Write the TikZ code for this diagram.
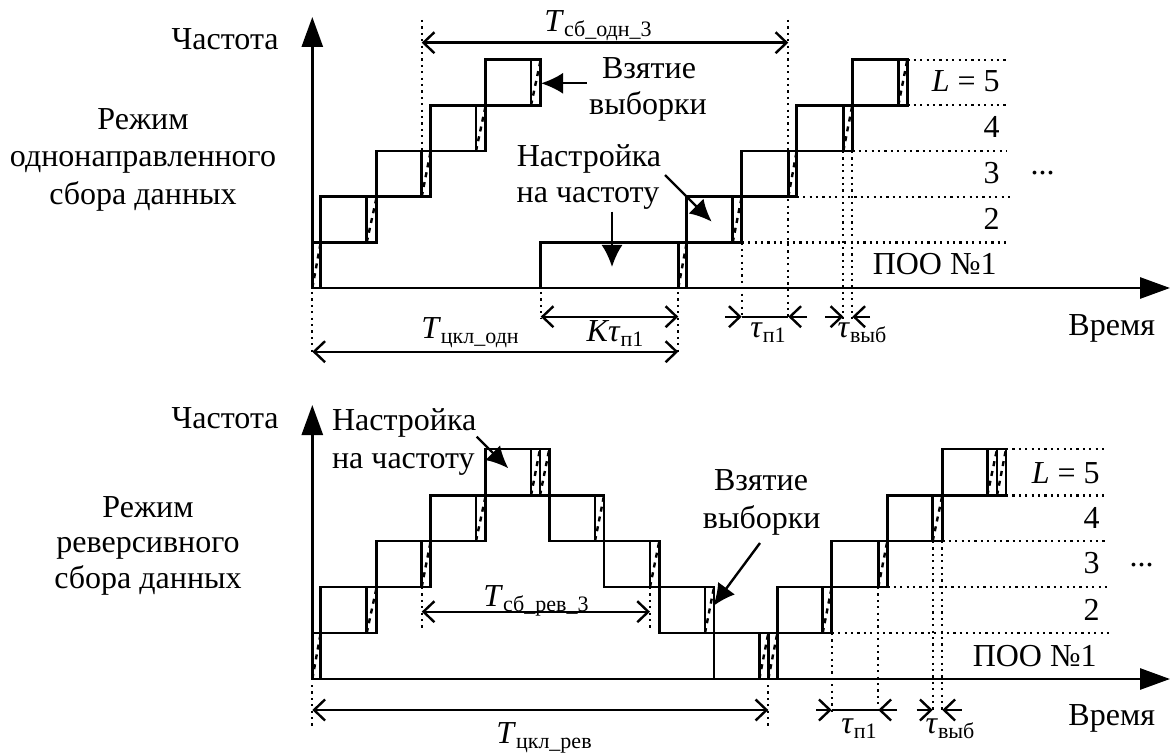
\documentclass[tikz,border=0pt]{standalone}
\usepackage{fontspec}
\setmainfont{Liberation Serif}
\usetikzlibrary{arrows.meta}
\newcommand{\sbs}[1]{\raisebox{-2.5pt}{\fontsize{11}{11}\selectfont #1}}
\newcommand{\smpbox}[4]{\draw[ln] (#1,#3) rectangle (#2,#4);}
\newcommand{\smpstrip}[4]{\draw[ln] (#1,#3) rectangle (#2,#4); \draw[hatch] (#1,#4) -- (#2,#3);}
\begin{document}
\begin{tikzpicture}[x=0.5pt,y=-0.5pt,
  font=\fontsize{16}{18}\selectfont,
  ln/.style={line width=1.3pt},
  hatch/.style={line width=1.2pt, dash pattern=on 2.5pt off 2.5pt},
  dotl/.style={line width=1.1pt, dash pattern=on 1.1pt off 2.1pt},
  axis/.style={line width=1.4pt, -{Triangle[length=15pt,width=10.5pt]}},
  dimb/.style={line width=1.2pt, {Straight Barb[length=5.5pt,width=10.5pt]}-{Straight Barb[length=5.5pt,width=10.5pt]}},
  bar/.style={line width=1.2pt, -{Straight Barb[length=5.5pt,width=10.5pt]}},
  ann/.style={line width=1.2pt, -{Latex[length=11pt,width=10.5pt]}},
  lab/.style={inner sep=0pt, anchor=base},
  rlab/.style={inner sep=0pt, anchor=base east}]
\useasboundingbox (0,0) rectangle (1170,753);

% ================= TOP PANEL =================
\coordinate (o1) at (312.3,288);
\coordinate (yt1) at (312.3,17);
\coordinate (xt1) at (1170,288);
\draw[axis] (o1) -- (yt1);
\draw[axis] (o1) -- (xt1);

% staircase
\smpstrip{312.3}{320.7}{242.5}{288}
\smpbox{320.7}{376.7}{196.8}{242.5} \smpstrip{366.7}{376.7}{196.8}{242.5}
\smpbox{376.7}{430.7}{151}{196.8}   \smpstrip{421.7}{430.7}{151}{196.8}
\smpbox{430.7}{485.7}{105.4}{151}   \smpstrip{476}{485.7}{105.4}{151}
\smpbox{485.7}{540.7}{59.7}{105.4}  \smpstrip{531}{540.7}{59.7}{105.4}
\smpbox{540.7}{686.7}{242.5}{288}   \smpstrip{678.3}{686.7}{242.5}{288}
\smpbox{686.7}{741.7}{196.8}{242.5} \smpstrip{732.7}{741.7}{196.8}{242.5}
\smpbox{741.7}{796.7}{151}{196.8}   \smpstrip{788.3}{796.7}{151}{196.8}
\smpbox{796.7}{852.3}{105.4}{151}   \smpstrip{843.3}{852.3}{105.4}{151}
\smpbox{852.3}{907.3}{59.7}{105.4}  \smpstrip{898.3}{907.3}{59.7}{105.4}

% dotted level lines
\draw[dotl] (907.3,59.7) -- (1007,59.7);
\draw[dotl] (907.3,105.4) -- (1007,105.4);
\draw[dotl] (852.3,151) -- (1007,151);
\draw[dotl] (796.7,196.8) -- (1010,196.8);
\draw[dotl] (741.7,242.5) -- (1007,242.5);

% dotted verticals
\draw[dotl] (312.3,292) -- (312.3,355);
\draw[dotl] (540.7,292) -- (540.7,319);
\draw[dotl] (678.3,292) -- (678.3,355);
\draw[dotl] (421.7,20) -- (421.7,151);
\draw[dotl] (788.3,20) -- (788.3,319);
\draw[dotl] (741.7,242.5) -- (741.7,319);
\draw[dotl] (843.3,151) -- (843.3,319);
\draw[dotl] (852.3,151) -- (852.3,319);

% dimensions
\coordinate (sa1) at (421.7,42.7);  \coordinate (sb1) at (788.3,42.7);
\draw[dimb] (sa1) -- (sb1);
\coordinate (ca1) at (312.3,351.7); \coordinate (cb1) at (678.3,351.7);
\draw[dimb] (ca1) -- (cb1);
\coordinate (ka1) at (540.7,316.7); \coordinate (kb1) at (678.3,316.7);
\draw[dimb] (ka1) -- (kb1);
\coordinate (pa1) at (741.7,316.7); \coordinate (pb1) at (788.3,316.7);
\coordinate (pl1) at (725,316.7);   \coordinate (pr1) at (807,316.7);
\draw[bar] (pl1) -- (pa1); \draw[bar] (pr1) -- (pb1); \draw[line width=1.2pt] (pa1) -- (pb1);
\coordinate (va1) at (843.3,316.7); \coordinate (vb1) at (852.3,316.7);
\coordinate (vl1) at (825,316.7);   \coordinate (vr1) at (870,316.7);
\draw[bar] (vl1) -- (va1); \draw[bar] (vr1) -- (vb1);

% texts
\node[rlab] (fq1) at (279,50) {Частота};
\node[lab] (m1a) at (143,130) {Режим};
\node[lab] (m1b) at (143,167) {однонаправленного};
\node[lab] (m1c) at (143,205) {сбора данных};
\node[lab] (tsb1) at (598,32) {\textit{T}\sbs{сб\_одн\_3}};
\node[lab] (tcl1) at (470,338) {\textit{T}\sbs{цкл\_одн}};
\node[lab] (ktp) at (615,341) {\textit{Kτ}\sbs{п1}};
\node[lab] (tp1) at (768,337) {\textit{τ}\sbs{п1}};
\node[lab] (tv1) at (862,337) {\textit{τ}\sbs{выб}};
\node[lab] (tm1) at (1111.7,335) {Время};
\node[rlab] (l5a) at (1000,91.7) {\textit{L} = 5};
\node[rlab] (l4a) at (1000,137.3) {4};
\node[rlab] (l3a) at (1000,183.3) {3};
\node[rlab] (l2a) at (1000,229.3) {2};
\node[rlab] (l1a) at (997,275) {ПОО №1};
\node[inner sep=0pt] (dta) at (1042.7,173) {...};
\node[lab] (vz1a) at (649,79) {Взятие};
\node[lab] (vz1b) at (648,115) {выборки};
\node[lab] (ns1a) at (589,167) {Настройка};
\node[lab] (ns1b) at (588,203) {на частоту};

% annotation arrows
\coordinate (av1) at (586.7,83.3);  \coordinate (av1t) at (541,83.3);
\draw[ann] (av1) -- (av1t);
\coordinate (an1) at (612,211.7);   \coordinate (an1t) at (612,267);
\draw[ann] (an1) -- (an1t);
\coordinate (an2) at (665,175);     \coordinate (an2t) at (711.7,221.7);
\draw[ann] (an2) -- (an2t);

% ================= BOTTOM PANEL =================
\coordinate (o2) at (312.3,679);
\coordinate (yt2) at (312.3,405);
\coordinate (xt2) at (1170,679);
\draw[axis] (o2) -- (yt2);
\draw[axis] (o2) -- (xt2);

\smpstrip{312.3}{320.7}{633}{679}
\smpbox{320.7}{376.7}{587}{633}   \smpstrip{366.7}{376.7}{587}{633}
\smpbox{376.7}{430.7}{541}{587}   \smpstrip{421.7}{430.7}{541}{587}
\smpbox{430.7}{485.7}{495.5}{541} \smpstrip{476}{485.7}{495.5}{541}
\smpbox{485.7}{549.3}{449}{495.5} \smpstrip{531}{540}{449}{495.5} \smpstrip{540}{549.3}{449}{495.5}
\smpbox{549.3}{604}{495.5}{541}   \smpstrip{595}{604}{495.5}{541}
\smpbox{604}{659.3}{541}{587}     \smpstrip{650}{659.3}{541}{587}
\smpbox{659.3}{714}{587}{633}     \smpstrip{705}{714}{587}{633}
\smpbox{714}{777.3}{633}{679}     \smpstrip{759.3}{768.3}{633}{679} \smpstrip{768.3}{777.3}{633}{679}
\smpbox{777.3}{831.7}{587}{633}   \smpstrip{822.7}{831.7}{587}{633}
\smpbox{831.7}{887.3}{541}{587}   \smpstrip{878.3}{887.3}{541}{587}
\smpbox{887.3}{942.3}{495.5}{541} \smpstrip{932.7}{942.3}{495.5}{541}
\smpbox{942.3}{1006}{449}{495.5}  \smpstrip{987.3}{997}{449}{495.5} \smpstrip{997}{1006}{449}{495.5}

\draw[dotl] (1006,449) -- (1105,449);
\draw[dotl] (1006,495.5) -- (1105,495.5);
\draw[dotl] (942.3,541) -- (1105,541);
\draw[dotl] (887.3,587) -- (1108,587);
\draw[dotl] (831.7,633) -- (1113,633);

\draw[dotl] (312.3,685) -- (312.3,728);
\draw[dotl] (768.3,685) -- (768.3,728);
\draw[dotl] (421.7,587) -- (421.7,630);
\draw[dotl] (650,587) -- (650,630);
\draw[dotl] (831.7,633) -- (831.7,713);
\draw[dotl] (878.3,587) -- (878.3,713);
\draw[dotl] (932.7,541) -- (932.7,713);
\draw[dotl] (942.3,541) -- (942.3,713);

\coordinate (sa2) at (421.7,611.7); \coordinate (sb2) at (650,611.7);
\draw[dimb] (sa2) -- (sb2);
\coordinate (ca2) at (312.3,710);   \coordinate (cb2) at (768.3,710);
\draw[dimb] (ca2) -- (cb2);
\coordinate (pa2) at (831.7,710);   \coordinate (pb2) at (878.3,710);
\coordinate (pl2) at (816,710);     \coordinate (pr2) at (897,710);
\draw[bar] (pl2) -- (pa2); \draw[bar] (pr2) -- (pb2); \draw[line width=1.2pt] (pa2) -- (pb2);
\coordinate (va2) at (932.7,710);   \coordinate (vb2) at (942.3,710);
\coordinate (vl2) at (916.7,710);   \coordinate (vr2) at (961.7,710);
\draw[bar] (vl2) -- (va2); \draw[bar] (vr2) -- (vb2);

\node[rlab] (fq2) at (279,428) {Частота};
\node[lab] (m2a) at (148,517) {Режим};
\node[lab] (m2b) at (148,552) {реверсивного};
\node[lab] (m2c) at (148,588) {сбора данных};
\node[lab] (tsb2) at (536,606) {\textit{T}\sbs{сб\_рев\_3}};
\node[lab] (tcl2) at (544,743) {\textit{T}\sbs{цкл\_рев}};
\node[lab] (tp2) at (859,733) {\textit{τ}\sbs{п1}};
\node[lab] (tv2) at (950,733) {\textit{τ}\sbs{выб}};
\node[lab] (tm2) at (1111.7,725) {Время};
\node[rlab] (l5b) at (1100,483.3) {\textit{L} = 5};
\node[rlab] (l4b) at (1100,528.3) {4};
\node[rlab] (l3b) at (1100,573.3) {3};
\node[rlab] (l2b) at (1100,620) {2};
\node[rlab] (l1b) at (1097,666.7) {ПОО №1};
\node[inner sep=0pt] (dtb) at (1141.7,565) {...};
\node[inner sep=0pt, anchor=base west] (ns2a) at (331.7,430) {Настройка};
\node[inner sep=0pt, anchor=base west] (ns2b) at (331.7,468) {на частоту};
\node[lab] (vz2a) at (761,490) {Взятие};
\node[lab] (vz2b) at (761.7,528.3) {выборки};

\coordinate (an3) at (476.7,436.7); \coordinate (an3t) at (508.3,468.3);
\draw[ann] (an3) -- (an3t);
\coordinate (av2) at (760,543);     \coordinate (av2t) at (713.3,606);
\draw[ann] (av2) -- (av2t);
\end{tikzpicture}
\end{document}
